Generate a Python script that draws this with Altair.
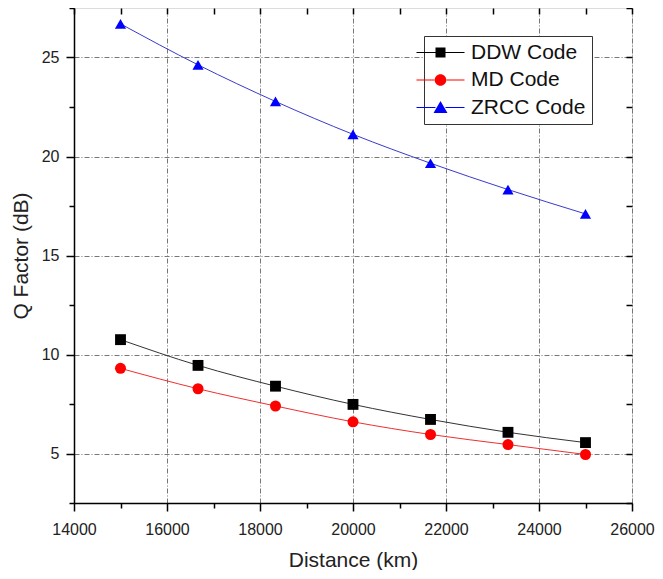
import altair as alt
import pandas as pd

distance = [15000, 16667, 18333, 20000, 21667, 23333, 25000]
ddw = [10.75, 9.45, 8.4, 7.48, 6.72, 6.07, 5.55]
md = [9.3, 8.27, 7.4, 6.6, 5.96, 5.45, 4.95]
zrcc = [26.7, 24.63, 22.78, 21.12, 19.66, 18.33, 17.1]
series_names = ["DDW Code", "MD Code", "ZRCC Code"]

point_colors = ["#000000", "#ff0000", "#0000ff"]
line_colors = ["#333333", "#ee3030", "#3a3acc"]
point_shapes = ["square", "circle", "triangle-up"]
pad_dot = "M-3.2,0h0.002v0.002h-0.002Z"
legend_paths = [
    pad_dot + "M-2.4,-0.05H-0.5V0.05H-2.4ZM0.5,-0.05H2.4V0.05H0.5ZM-0.5,-0.5H0.5V0.5H-0.5Z",
    pad_dot + "M-2.4,-0.05H-0.55V0.05H-2.4ZM0.55,-0.05H2.4V0.05H0.55ZM-0.58,0A0.58,0.58 0 1,0 0.58,0A0.58,0.58 0 1,0 -0.58,0Z",
    pad_dot + "M-2.4,-0.05H-0.5V0.05H-2.4ZM0.5,-0.05H2.4V0.05H0.5ZM0,-0.64L0.7,0.54L-0.7,0.54Z",
]
x_ticks = list(range(14000, 26001, 1000))
y_ticks = [2.5, 5, 7.5, 10, 12.5, 15, 17.5, 20, 22.5, 25, 27.5]

rows = []
for name, vals in zip(series_names, [ddw, md, zrcc]):
    for d, v in zip(distance, vals):
        rows.append({"Distance": d, "Q": v, "Series": name})
df = pd.DataFrame(rows)

FONT = "Liberation Sans"
xscale = alt.Scale(domain=[14000, 26000], nice=False, zero=False)
yscale = alt.Scale(domain=[2.5, 27.5], nice=False, zero=False)

x_bottom = alt.Axis(
    values=x_ticks, title="Distance (km)",
    labelExpr="datum.value % 2000 === 0 ? datum.value : ''",
    tickSize={"condition": {"test": "datum.value % 2000 === 0", "value": 8}, "value": 5},
    gridOpacity={"condition": {"test": "datum.value % 2000 === 0", "value": 1}, "value": 0},
    grid=True, gridDash=[5, 2, 1, 2], gridColor="#777777", gridWidth=1,
    domainColor="black", domainWidth=1.5, tickColor="black", tickWidth=1.5,
    labelFont=FONT, labelFontSize=16, labelColor="#222222", labelPadding=10,
    titleFont=FONT, titleFontSize=21, titleFontWeight="normal", titleColor="#222222",
    titlePadding=12, labelFlush=False,
)
y_left = alt.Axis(
    values=y_ticks, title="Q Factor (dB)",
    labelExpr="datum.value % 5 === 0 ? datum.value : ''",
    tickSize={"condition": {"test": "datum.value % 5 === 0", "value": 8}, "value": 5},
    gridOpacity={"condition": {"test": "datum.value % 5 === 0", "value": 1}, "value": 0},
    grid=True, gridDash=[5, 2, 1, 2], gridColor="#777777", gridWidth=1,
    domainColor="black", domainWidth=1.5, tickColor="black", tickWidth=1.5,
    labelFont=FONT, labelFontSize=16, labelColor="#222222", labelPadding=7,
    titleFont=FONT, titleFontSize=21, titleFontWeight="normal", titleColor="#222222",
    titlePadding=10, labelFlush=False,
)
x_top = alt.Axis(orient="top", values=x_ticks, labels=False, title=None, grid=False,
                 domain=False, tickSize=6, offset=-6, tickColor="black", tickWidth=1.5)
y_right = alt.Axis(orient="right", values=y_ticks, labels=False, title=None, grid=False,
                   domain=False, tickSize=6, offset=-6, tickColor="black", tickWidth=1.5)

base = alt.Chart(df)

lines = base.mark_line(strokeWidth=1, interpolate="monotone").encode(
    x=alt.X("Distance:Q", scale=xscale, axis=x_bottom),
    y=alt.Y("Q:Q", scale=yscale, axis=y_left),
    color=alt.Color("Series:N", scale=alt.Scale(domain=series_names, range=line_colors), legend=None),
)

points = base.mark_point(filled=True, opacity=1).encode(
    x=alt.X("Distance:Q", scale=xscale, axis=x_top),
    y=alt.Y("Q:Q", scale=yscale, axis=y_right),
    color=alt.Color("Series:N", scale=alt.Scale(domain=series_names, range=point_colors), legend=None),
    shape=alt.Shape("Series:N", scale=alt.Scale(domain=series_names, range=point_shapes), legend=None),
    size=alt.Size("Series:N", scale=alt.Scale(domain=series_names, range=[118, 125, 185]), legend=None),
)

legend_layer = base.transform_filter("datum.Q < -1000").mark_point(filled=True, opacity=1).encode(
    x=alt.X("Distance:Q", scale=xscale, axis=None),
    y=alt.Y("Q:Q", scale=yscale, axis=None),
    color=alt.Color("Series:N", scale=alt.Scale(domain=series_names, range=point_colors),
                    legend=alt.Legend(
                        title=None, orient="none", legendX=350, legendY=28,
                        symbolSize=400, symbolOpacity=1, symbolStrokeWidth=0,
                        labelFont=FONT, labelFontSize=21, labelColor="#111111",
                        labelOffset=20, rowPadding=5.5, padding=6,
                        strokeColor="#333333", fillColor="white",
                    )),
    shape=alt.Shape("Series:N", scale=alt.Scale(domain=series_names, range=legend_paths),
                    legend=alt.Legend(title=None, orient="none", legendX=350, legendY=28)),
)

chart = alt.layer(lines, points, legend_layer).resolve_scale(
    color="independent", shape="independent"
).resolve_axis(
    x="independent", y="independent"
).properties(
    width=558, height=495,
    padding={"left": 66, "top": 0, "right": 23, "bottom": 67},
    autosize=alt.AutoSizeParams(type="none"),
).configure_view(stroke="black", strokeWidth=1.5).configure(background="white")

chart.save("out.html", embed_options={"renderer": "svg", "actions": False})
